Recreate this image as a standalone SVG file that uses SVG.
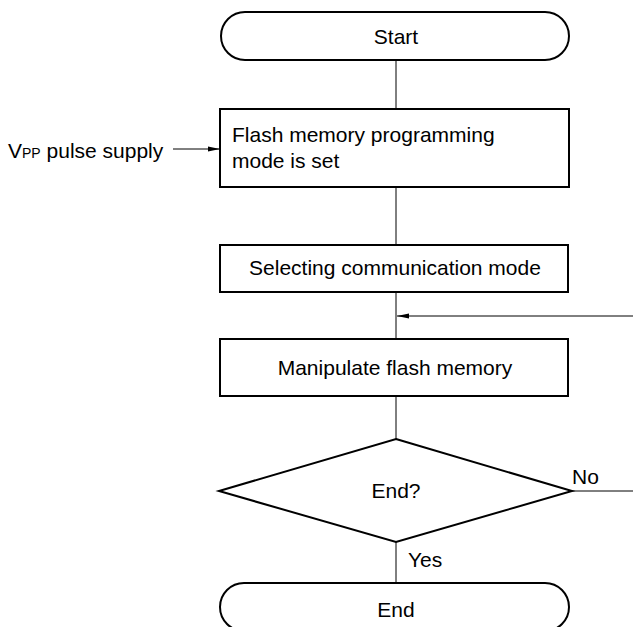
<svg xmlns="http://www.w3.org/2000/svg" width="633" height="627" viewBox="0 0 633 627">
<defs>
<style>
.shape{fill:#fff;stroke:#000;stroke-width:2}
.conn{fill:none;stroke:#000;stroke-width:1}
text{font-family:"Liberation Sans",Arial,sans-serif;font-size:21px;fill:#000}
.c{text-anchor:middle}
</style>
<marker id="ah" markerWidth="12" markerHeight="6" refX="12" refY="3" orient="auto" markerUnits="userSpaceOnUse">
<path d="M0,0.5 L12,3 L0,5.5 Z" fill="#000"/>
</marker>
</defs>
<g id="connectors">
<line class="conn" x1="396" y1="60" x2="396" y2="109"/>
<line class="conn" x1="396" y1="187" x2="396" y2="245"/>
<line class="conn" x1="396" y1="292" x2="396" y2="339"/>
<line class="conn" x1="396" y1="396" x2="396" y2="439"/>
<line class="conn" x1="396" y1="542" x2="396" y2="583"/>
<line class="conn" x1="633" y1="316" x2="397" y2="316" marker-end="url(#ah)"/>
<line class="conn" x1="572" y1="491" x2="633" y2="491"/>
<line class="conn" x1="173" y1="149" x2="220" y2="149" marker-end="url(#ah)"/>
</g>
<g id="start">
<rect class="shape" x="221" y="12" width="348" height="48" rx="24" ry="24"/>
<text class="c" x="396" y="44">Start</text>
</g>
<g id="vpp">
<text x="8" y="158">V<tspan font-size="14">PP</tspan> pulse supply</text>
</g>
<g id="flash-mode">
<rect class="shape" x="220" y="109" width="349" height="78"/>
<text x="232" y="142">Flash memory programming</text>
<text x="232" y="168">mode is set</text>
</g>
<g id="select-comm">
<rect class="shape" x="220" y="245" width="348" height="47"/>
<text class="c" x="395" y="275">Selecting communication mode</text>
</g>
<g id="manipulate">
<rect class="shape" x="220" y="339" width="348" height="57"/>
<text class="c" x="395" y="375">Manipulate flash memory</text>
</g>
<g id="decision">
<polygon class="shape" points="396,439 572,491 396,542 219,491"/>
<text class="c" x="396" y="498">End?</text>
<text x="572" y="484">No</text>
<text x="408" y="567">Yes</text>
</g>
<g id="end">
<rect class="shape" x="220" y="583" width="349" height="48" rx="24" ry="24"/>
<text class="c" x="396" y="617">End</text>
</g>
</svg>
